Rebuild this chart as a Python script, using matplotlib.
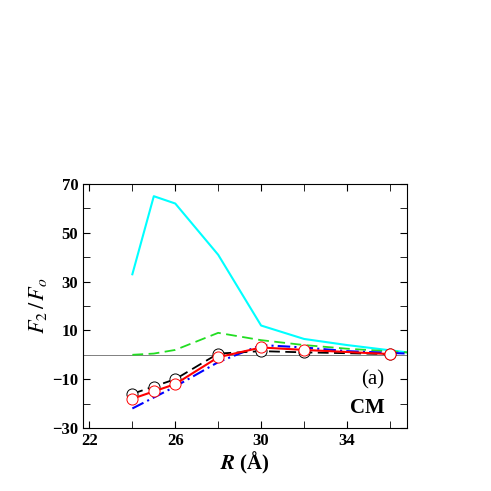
import matplotlib
matplotlib.use("Agg")
import matplotlib.pyplot as plt

plt.rcParams["font.family"] = "Liberation Serif"
plt.rcParams["mathtext.fontset"] = "stix"

r_cyan = [24, 25, 26, 28, 30, 32, 34, 36.8]
f_cyan = [33, 65, 62, 41, 12, 6.5, 4, 1]
r_green = [24, 25, 26, 28, 30, 32, 34, 36.8]
f_green = [0, 0.5, 2, 9, 6, 4, 2.5, 1]
r_circ = [24, 25, 26, 28, 30, 32, 36]
f_black = [-16, -13, -10, 0.5, 1.5, 1, 0.3]
f_red = [-18, -15, -12, -1, 3, 2, 0.3]
r_blue = [24, 26, 28, 30, 32, 34, 36.8]
f_blue = [-22, -13, -3, 4, 3, 1.5, 0.5]

fig = plt.figure(figsize=(4.91, 4.91), dpi=100)
ax = fig.add_axes([83/491, 1-428/491, 324/491, 244/491])

ax.axhline(0, color="gray", lw=0.7)
ax.plot(r_cyan, f_cyan, color="cyan", lw=1.5)
ax.plot(r_green, f_green, color="#22dd22", lw=1.3, ls=(0, (6, 3)))
ax.plot(r_blue, f_blue, color="blue", lw=1.5, ls=(0, (6, 2, 1, 2)))
ax.plot(r_circ, f_black, color="black", lw=1.3, ls=(0, (6, 3)),
        marker="o", ms=8, mfc="white", mec="black", mew=0.7)
ax.plot(r_circ, f_red, color="red", lw=1.5,
        marker="o", ms=8, mfc="white", mec="red", mew=0.7)

ax.set_xlim(21.7, 36.8)
ax.set_ylim(-30, 70)
ax.set_xticks([22, 26, 30, 34])
ax.set_xticks([24, 28, 32, 36], minor=True)
ax.set_yticks([-30, -10, 10, 30, 50, 70])
ax.set_yticks([-20, 0, 20, 40, 60], minor=True)
ax.tick_params(which="both", direction="in", top=True, right=True, labelsize=12)
ax.tick_params(which="major", length=5)
ax.tick_params(which="minor", length=5)
for lab in ax.get_xticklabels() + ax.get_yticklabels():
    lab.set_fontweight("bold")

ax.set_xlabel(r"$\boldsymbol{R}$ (Å)", fontsize=15, fontweight="bold", labelpad=1)
ax.set_ylabel(r"$F_2\,/\,F_o$", fontsize=16, labelpad=2)
ax.text(0.93, 0.18, "(a)", transform=ax.transAxes, ha="right", fontsize=15)
ax.text(0.93, 0.06, "CM", transform=ax.transAxes, ha="right", fontsize=15,
        fontweight="bold")

fig.savefig("out.png", dpi=100)
